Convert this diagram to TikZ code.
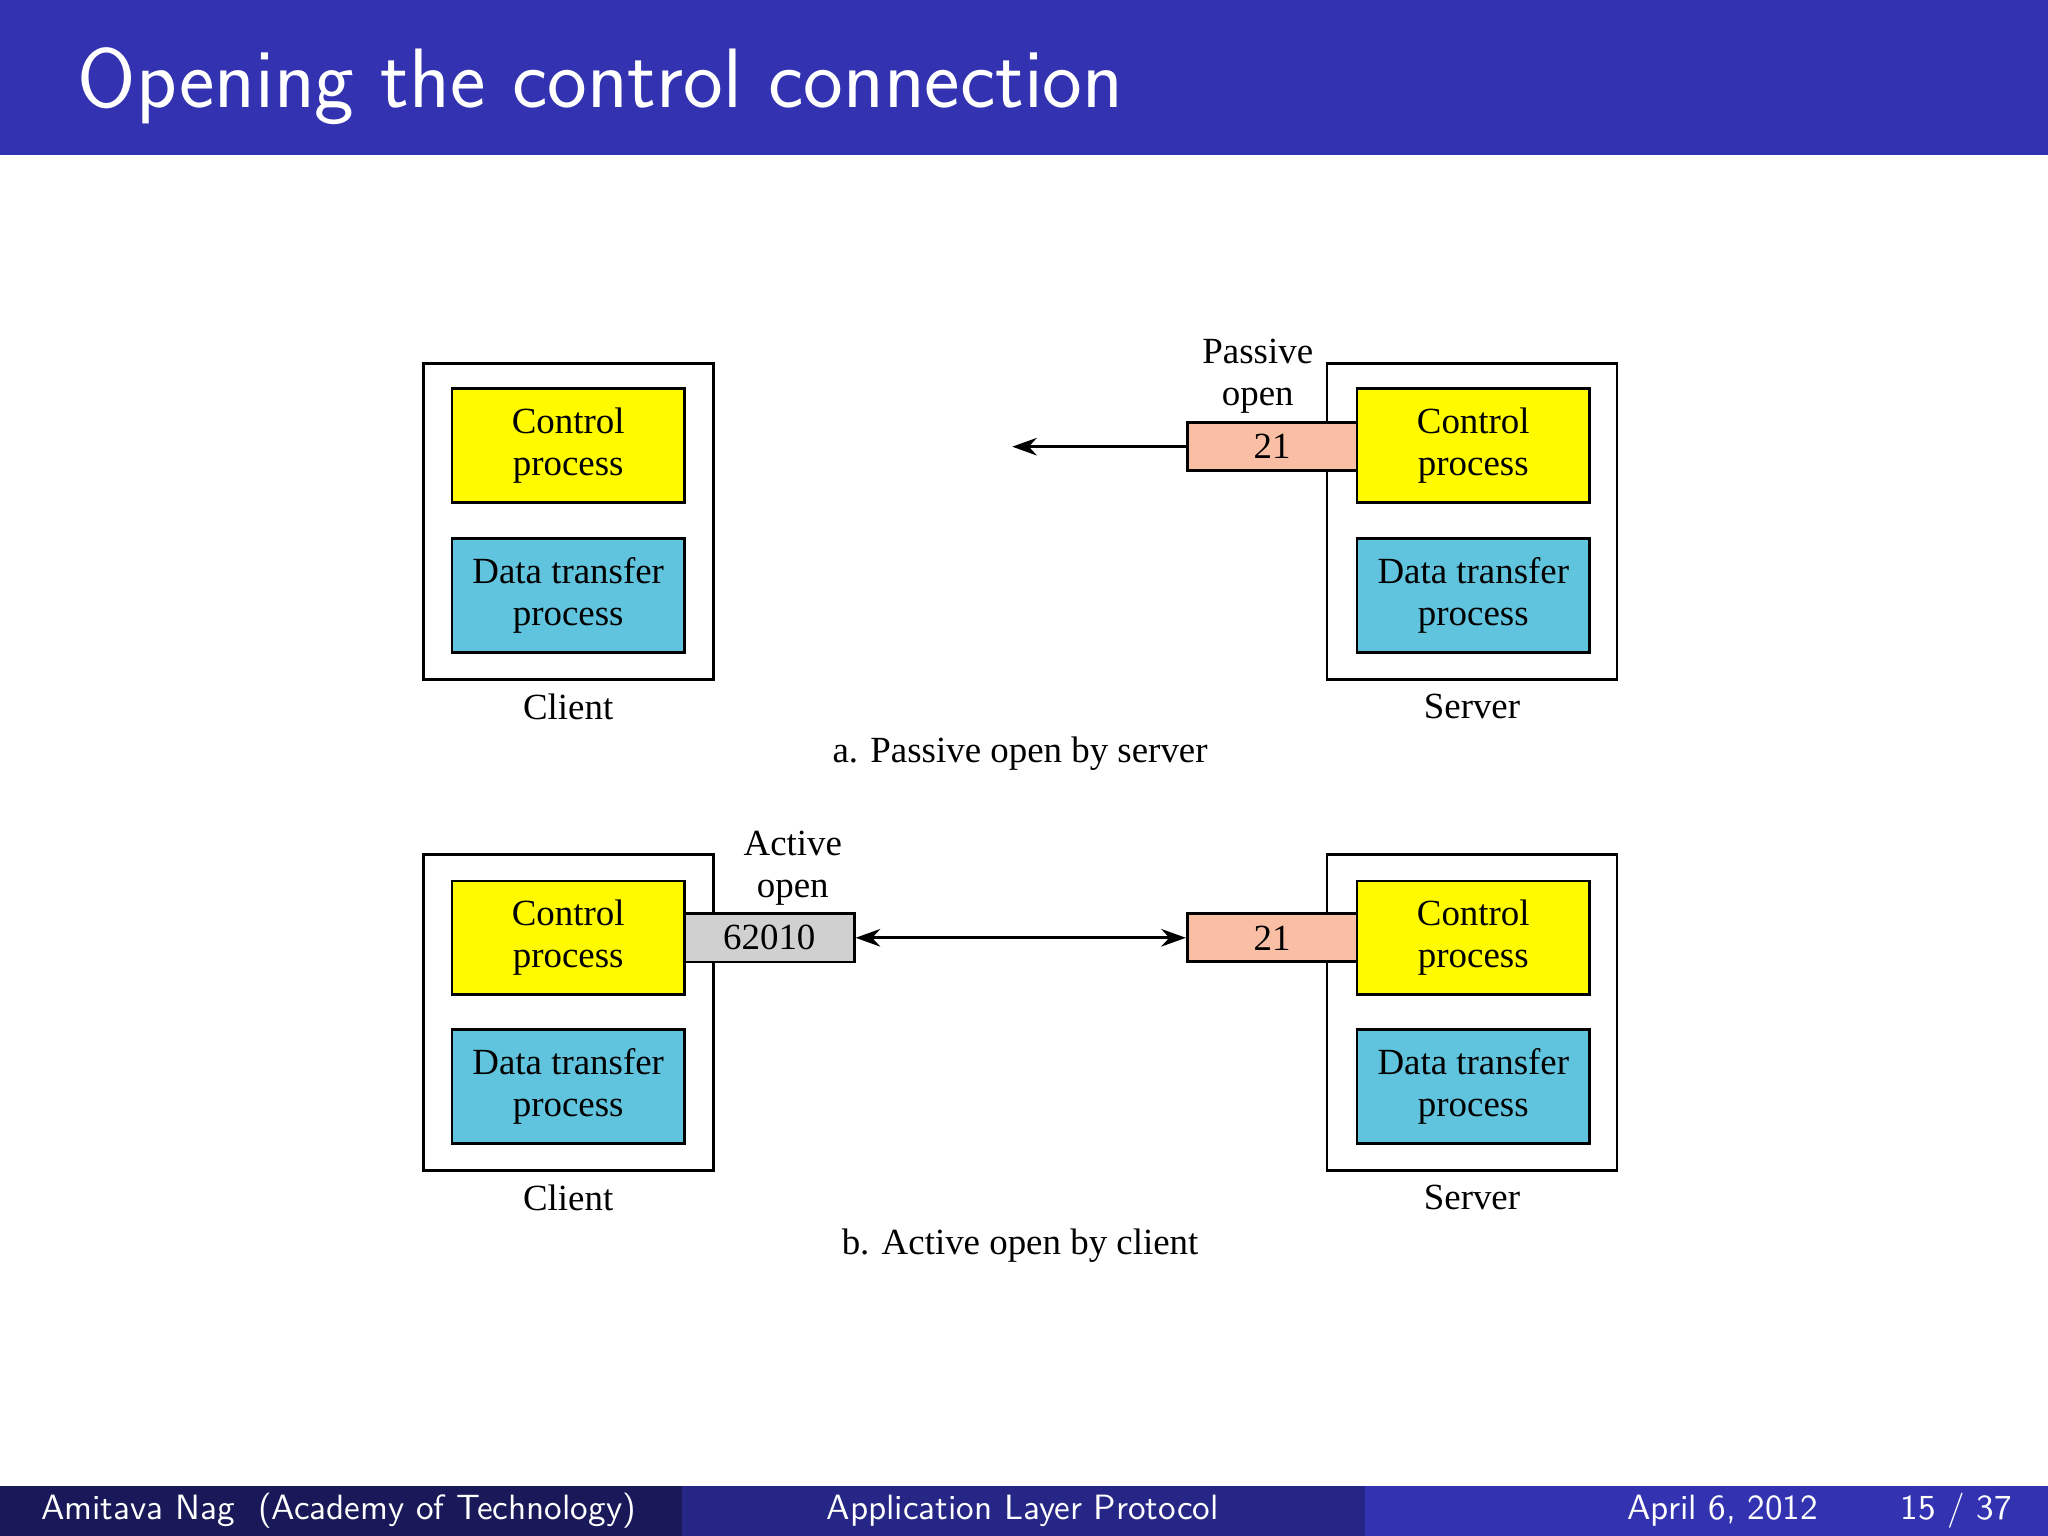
\documentclass[tikz,border=0pt]{standalone}
\usepackage{fontspec}
\setmainfont{Liberation Serif}
\usetikzlibrary{arrows.meta, positioning, calc}
\definecolor{barblue}{RGB}{51,51,178}
\definecolor{footdark}{RGB}{25,25,89}
\definecolor{footmid}{RGB}{38,38,134}
\definecolor{ctrlyellow}{RGB}{255,250,0}
\definecolor{datacyan}{RGB}{96,196,222}
\definecolor{portsalmon}{RGB}{250,190,165}
\definecolor{portgray}{RGB}{208,208,208}
\begin{document}
\begin{tikzpicture}[
            x=0.01306cm, y=-0.01306cm,
            outer/.style={rectangle, draw, thick, minimum width=222*0.01306cm, minimum height=242*0.01306cm},
            proc/.style={rectangle, draw, thick, minimum width=178*0.01306cm, minimum height=87*0.01306cm, align=center, font=\fontsize{10.5}{12}\selectfont},
            port/.style={rectangle, draw, thick, minimum width=130*0.01306cm, minimum height=33*0.01306cm, font=\fontsize{10.5}{12}\selectfont},
            lbl/.style={align=center, font=\fontsize{10.5}{12}\selectfont},
            arr/.style={thick, -{Stealth[length=7pt,width=5pt]}}
        ]
        \useasboundingbox (0,0) rectangle (1568,1176);
        \fill[white] (0,0) rectangle (1568,1176);

        % title bar and footer
        \fill[barblue] (0,0) rectangle (1568,119);
        \node[anchor=west, text=white, font=\sffamily\fontsize{24}{28}\selectfont] (title) at (50,66) {Opening the control connection};
        \fill[footdark] (0,1138) rectangle (522,1176);
        \fill[footmid] (522,1138) rectangle (1045,1176);
        \fill[barblue] (1045,1138) rectangle (1568,1176);
        \node[anchor=west, text=white, font=\sffamily\fontsize{10}{12}\selectfont] (author) at (22,1157) {Amitava Nag\ \ (Academy of Technology)};
        \node[text=white, font=\sffamily\fontsize{10}{12}\selectfont] (talk) at (783,1157) {Application Layer Protocol};
        \node[text=white, font=\sffamily\fontsize{10}{12}\selectfont] (date) at (1319,1157) {April 6, 2012};
        \node[anchor=east, text=white, font=\sffamily\fontsize{10}{12}\selectfont] (page) at (1550,1157) {15 / 37};

        % a. passive open
        \node[outer] (clientA) at (435,399) {};
        \node[proc, fill=ctrlyellow] (cctrlA) at (435,341) {Control\\process};
        \node[proc, fill=datacyan] (cdataA) at (435,456) {Data transfer\\process};
        \node[lbl] (clblA) at (435,541) {Client};
        \node[outer] (serverA) at (1127,399) {};
        \node[proc, fill=ctrlyellow] (sctrlA) at (1128,341) {Control\\process};
        \node[proc, fill=datacyan] (sdataA) at (1128,456) {Data transfer\\process};
        \node[lbl] (slblA) at (1127,541) {Server};
        \node[port, fill=portsalmon] (portA) at (974,342) {21};
        \node[lbl] (passive) at (963,288) {Passive\\open};
        \coordinate (endA) at (775,342);
        \draw[arr] (portA.west) -- (endA);
        \node[lbl] (capA) at (781,577) {a. Passive open by server};

        % b. active open
        \node[outer] (clientB) at (435,775) {};
        \node[proc, fill=ctrlyellow] (cctrlB) at (435,718) {Control\\process};
        \node[proc, fill=datacyan] (cdataB) at (435,832) {Data transfer\\process};
        \node[lbl] (clblB) at (435,917) {Client};
        \node[outer] (serverB) at (1127,775) {};
        \node[proc, fill=ctrlyellow] (sctrlB) at (1128,718) {Control\\process};
        \node[proc, fill=datacyan] (sdataB) at (1128,832) {Data transfer\\process};
        \node[lbl] (slblB) at (1127,917) {Server};
        \node[port, fill=portgray] (portC) at (589,718) {62010};
        \node[port, fill=portsalmon] (portB) at (974,718) {21};
        \node[lbl] (active) at (607,665) {Active\\open};
        \draw[arr, {Stealth[length=7pt,width=5pt]}-{Stealth[length=7pt,width=5pt]}] (portC.east) -- (portB.west);
        \node[lbl] (capB) at (781,954) {b. Active open by client};
    \end{tikzpicture}
\end{document}
